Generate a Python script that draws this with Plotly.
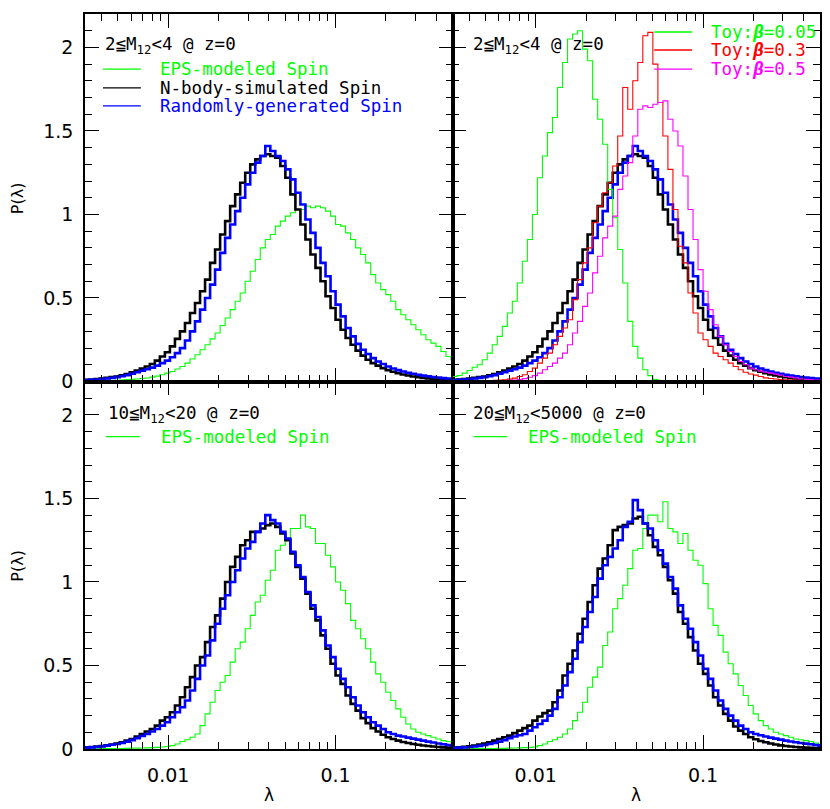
import numpy as np
import plotly.graph_objects as go
from plotly.subplots import make_subplots


# %% data: P(lambda) per dex, histogram bins of 0.03 dex starting at log10(lambda) = -2.5
LOG_LAMBDA_START = -2.5
BIN_DEX = 0.03

# 2 <= M12 < 4
nbody_2_4 = [
    0.010, 0.012, 0.015, 0.018, 0.022, 0.026, 0.030, 0.037, 0.045, 0.055,
    0.065, 0.077, 0.090, 0.105, 0.125, 0.150, 0.175, 0.210, 0.255, 0.300,
    0.350, 0.410, 0.470, 0.540, 0.610, 0.710, 0.790, 0.880, 0.960, 1.050,
    1.120, 1.190, 1.250, 1.300, 1.330, 1.350, 1.360, 1.350, 1.340, 1.290,
    1.220, 1.120, 1.030, 0.940, 0.850, 0.760, 0.680, 0.600, 0.510, 0.440,
    0.370, 0.310, 0.260, 0.220, 0.185, 0.155, 0.130, 0.110, 0.095, 0.080,
    0.068, 0.058, 0.050, 0.042, 0.036, 0.030, 0.026, 0.022, 0.019, 0.016,
    0.013, 0.011, 0.009, 0.008,
]
random_2_4 = [
    0.008, 0.010, 0.012, 0.015, 0.018, 0.022, 0.026, 0.031, 0.038, 0.046,
    0.055, 0.064, 0.073, 0.083, 0.095, 0.110, 0.125, 0.145, 0.170, 0.200,
    0.245, 0.300, 0.360, 0.430, 0.500, 0.580, 0.670, 0.770, 0.860, 0.940,
    1.020, 1.100, 1.180, 1.250, 1.310, 1.350, 1.410, 1.380, 1.350, 1.320,
    1.270, 1.210, 1.130, 1.060, 0.970, 0.890, 0.800, 0.710, 0.630, 0.540,
    0.460, 0.390, 0.320, 0.270, 0.225, 0.190, 0.165, 0.140, 0.120, 0.105,
    0.090, 0.078, 0.068, 0.060, 0.052, 0.046, 0.040, 0.035, 0.031, 0.027,
    0.023, 0.020, 0.018, 0.016,
]
eps_2_4 = [
    0.002, 0.002, 0.003, 0.004, 0.005, 0.006, 0.007, 0.009, 0.011, 0.013,
    0.015, 0.018, 0.021, 0.026, 0.032, 0.040, 0.050, 0.060, 0.075, 0.090,
    0.110, 0.135, 0.160, 0.190, 0.220, 0.255, 0.290, 0.335, 0.380, 0.430,
    0.480, 0.530, 0.600, 0.660, 0.730, 0.800, 0.850, 0.880, 0.930, 0.960,
    0.990, 1.010, 1.030, 1.030, 1.050, 1.040, 1.050, 1.040, 1.020, 0.990,
    0.940, 0.930, 0.890, 0.850, 0.800, 0.760, 0.710, 0.640, 0.590, 0.550,
    0.520, 0.480, 0.430, 0.400, 0.370, 0.340, 0.310, 0.280, 0.250, 0.230,
    0.210, 0.180, 0.150, 0.130,
]
toy_b005 = [
    0.030, 0.036, 0.050, 0.066, 0.085, 0.100, 0.130, 0.170, 0.220, 0.270,
    0.330, 0.410, 0.480, 0.590, 0.720, 0.850, 1.000, 1.220, 1.350, 1.490,
    1.580, 1.760, 1.910, 2.050, 2.080, 2.100, 1.990, 1.920, 1.690, 1.570,
    1.420, 1.150, 0.980, 0.790, 0.590, 0.360, 0.210, 0.140, 0.070, 0.035,
    0.012, 0.005, 0.002, 0.001, 0.0, 0.0, 0.0, 0.0, 0.0, 0.0,
    0.0, 0.0, 0.0, 0.0, 0.0, 0.0, 0.0, 0.0, 0.0, 0.0,
    0.0, 0.0, 0.0, 0.0, 0.0, 0.0, 0.0, 0.0, 0.0, 0.0,
    0.0, 0.0, 0.0, 0.0,
]
toy_b03 = [
    0.002, 0.002, 0.003, 0.003, 0.004, 0.004, 0.005, 0.006, 0.007, 0.008,
    0.010, 0.014, 0.020, 0.030, 0.040, 0.060, 0.080, 0.110, 0.140, 0.170,
    0.220, 0.270, 0.320, 0.370, 0.490, 0.610, 0.710, 0.800, 0.950, 1.050,
    1.130, 1.190, 1.290, 1.470, 1.760, 1.630, 1.800, 1.910, 2.070, 2.090,
    1.900, 1.670, 1.470, 1.270, 1.030, 0.810, 0.710, 0.530, 0.410, 0.290,
    0.250, 0.210, 0.170, 0.150, 0.130, 0.110, 0.090, 0.070, 0.055, 0.045,
    0.038, 0.030, 0.022, 0.018, 0.015, 0.012, 0.010, 0.008, 0.007, 0.006,
    0.005, 0.004, 0.004, 0.003,
]
toy_b05 = [
    0.001, 0.001, 0.001, 0.001, 0.002, 0.002, 0.003, 0.003, 0.004, 0.005,
    0.006, 0.007, 0.009, 0.012, 0.017, 0.025, 0.035, 0.050, 0.070, 0.090,
    0.110, 0.140, 0.170, 0.220, 0.290, 0.360, 0.450, 0.530, 0.650, 0.750,
    0.860, 0.930, 0.990, 1.150, 1.230, 1.310, 1.470, 1.630, 1.650, 1.640,
    1.660, 1.670, 1.680, 1.570, 1.500, 1.410, 1.230, 1.030, 0.850, 0.670,
    0.540, 0.430, 0.340, 0.270, 0.220, 0.180, 0.150, 0.120, 0.100, 0.080,
    0.070, 0.062, 0.055, 0.050, 0.044, 0.038, 0.030, 0.026, 0.022, 0.016,
    0.013, 0.011, 0.009, 0.008,
]

# 10 <= M12 < 20
nbody_10_20 = [
    0.010, 0.012, 0.015, 0.018, 0.022, 0.027, 0.033, 0.040, 0.050, 0.060,
    0.075, 0.090, 0.105, 0.120, 0.140, 0.170, 0.190, 0.220, 0.260, 0.310,
    0.370, 0.430, 0.500, 0.550, 0.640, 0.730, 0.800, 0.900, 1.000, 1.090,
    1.150, 1.220, 1.250, 1.300, 1.300, 1.320, 1.340, 1.350, 1.330, 1.290,
    1.250, 1.170, 1.090, 1.020, 0.930, 0.840, 0.770, 0.680, 0.600, 0.510,
    0.440, 0.390, 0.320, 0.270, 0.230, 0.185, 0.155, 0.125, 0.105, 0.085,
    0.070, 0.060, 0.050, 0.042, 0.036, 0.030, 0.025, 0.021, 0.018, 0.015,
    0.012, 0.010, 0.008, 0.007,
]
random_10_20 = [
    0.008, 0.010, 0.013, 0.016, 0.020, 0.025, 0.030, 0.036, 0.044, 0.053,
    0.065, 0.078, 0.090, 0.105, 0.120, 0.140, 0.160, 0.190, 0.220, 0.250,
    0.290, 0.350, 0.420, 0.500, 0.560, 0.650, 0.750, 0.840, 0.920, 1.000,
    1.070, 1.140, 1.200, 1.240, 1.300, 1.350, 1.400, 1.370, 1.350, 1.300,
    1.260, 1.180, 1.100, 1.030, 0.940, 0.860, 0.790, 0.710, 0.620, 0.550,
    0.480, 0.420, 0.370, 0.310, 0.260, 0.220, 0.190, 0.160, 0.140, 0.120,
    0.100, 0.090, 0.080, 0.075, 0.068, 0.062, 0.056, 0.050, 0.044, 0.039,
    0.033, 0.028, 0.024, 0.020,
]
eps_10_20 = [
    0.001, 0.001, 0.001, 0.002, 0.002, 0.002, 0.003, 0.003, 0.004, 0.005,
    0.005, 0.006, 0.007, 0.008, 0.010, 0.012, 0.015, 0.020, 0.030, 0.045,
    0.055, 0.070, 0.090, 0.140, 0.210, 0.280, 0.350, 0.400, 0.440, 0.520,
    0.600, 0.640, 0.720, 0.800, 0.880, 0.920, 1.010, 1.070, 1.190, 1.220,
    1.260, 1.320, 1.320, 1.400, 1.330, 1.320, 1.230, 1.230, 1.160, 1.090,
    1.000, 0.950, 0.870, 0.770, 0.720, 0.660, 0.600, 0.520, 0.450, 0.400,
    0.340, 0.290, 0.240, 0.190, 0.150, 0.120, 0.100, 0.090, 0.080, 0.070,
    0.060, 0.050, 0.045, 0.040,
]

# 20 <= M12 < 5000
nbody_20_5000 = [
    0.008, 0.010, 0.013, 0.016, 0.020, 0.026, 0.032, 0.040, 0.050, 0.060,
    0.070, 0.080, 0.095, 0.110, 0.125, 0.140, 0.170, 0.195, 0.215, 0.230,
    0.280, 0.350, 0.440, 0.510, 0.590, 0.690, 0.780, 0.880, 0.980, 1.080,
    1.140, 1.220, 1.310, 1.330, 1.340, 1.350, 1.380, 1.390, 1.350, 1.280,
    1.210, 1.160, 1.090, 1.010, 0.930, 0.820, 0.750, 0.670, 0.590, 0.510,
    0.450, 0.380, 0.310, 0.260, 0.210, 0.170, 0.135, 0.110, 0.090, 0.070,
    0.058, 0.048, 0.040, 0.033, 0.027, 0.022, 0.018, 0.015, 0.012, 0.010,
    0.008, 0.007, 0.006, 0.005,
]
random_20_5000 = [
    0.006, 0.008, 0.010, 0.012, 0.015, 0.019, 0.024, 0.030, 0.036, 0.044,
    0.053, 0.065, 0.075, 0.082, 0.090, 0.110, 0.130, 0.150, 0.170, 0.200,
    0.240, 0.310, 0.380, 0.460, 0.540, 0.640, 0.730, 0.820, 0.910, 1.020,
    1.100, 1.150, 1.200, 1.250, 1.330, 1.360, 1.490, 1.430, 1.350, 1.320,
    1.250, 1.190, 1.110, 1.030, 0.960, 0.860, 0.780, 0.720, 0.640, 0.560,
    0.480, 0.420, 0.350, 0.290, 0.240, 0.200, 0.170, 0.140, 0.120, 0.100,
    0.090, 0.082, 0.075, 0.068, 0.062, 0.056, 0.050, 0.045, 0.040, 0.036,
    0.032, 0.028, 0.024, 0.020,
]
eps_20_5000 = [
    0.001, 0.001, 0.001, 0.001, 0.002, 0.002, 0.002, 0.003, 0.003, 0.004,
    0.004, 0.005, 0.006, 0.007, 0.008, 0.010, 0.012, 0.020, 0.030, 0.045,
    0.055, 0.070, 0.090, 0.120, 0.170, 0.220, 0.280, 0.370, 0.430, 0.490,
    0.620, 0.700, 0.840, 0.900, 0.980, 1.080, 1.190, 1.200, 1.320, 1.400,
    1.400, 1.360, 1.480, 1.320, 1.300, 1.230, 1.290, 1.190, 1.130, 1.100,
    0.990, 0.840, 0.740, 0.680, 0.580, 0.510, 0.450, 0.380, 0.320, 0.260,
    0.210, 0.170, 0.140, 0.120, 0.100, 0.090, 0.080, 0.070, 0.060, 0.055,
    0.050, 0.045, 0.035, 0.025,
]

panel_titles = [
    "2≦M<sub>12</sub>&lt;4 @ z=0",
    "2≦M<sub>12</sub>&lt;4 @ z=0",
    "10≦M<sub>12</sub>&lt;20 @ z=0",
    "20≦M<sub>12</sub>&lt;5000 @ z=0",
]

GREEN, BLACK, BLUE, RED, MAGENTA = "#00ff00", "#000000", "#0000ff", "#ff0000", "#ff00ff"
MONO = "DejaVu Sans Mono"


# %%
n_bins = len(nbody_2_4)
lam_edges = 10 ** (LOG_LAMBDA_START + BIN_DEX * np.arange(n_bins + 1))


def step(fig, values, color, width, row, col):
    y = list(values) + [values[-1]]
    fig.add_trace(
        go.Scatter(x=lam_edges, y=y, mode="lines", line_shape="hv",
                   line=dict(color=color, width=width), showlegend=False),
        row=row, col=col,
    )


fig = make_subplots(rows=2, cols=2, horizontal_spacing=0, vertical_spacing=0)

step(fig, eps_2_4, GREEN, 1.1, 1, 1)
step(fig, nbody_2_4, BLACK, 2.6, 1, 1)
step(fig, random_2_4, BLUE, 2.6, 1, 1)

step(fig, nbody_2_4, BLACK, 2.6, 1, 2)
step(fig, random_2_4, BLUE, 2.6, 1, 2)
step(fig, toy_b005, GREEN, 1.1, 1, 2)
step(fig, toy_b03, RED, 1.1, 1, 2)
step(fig, toy_b05, MAGENTA, 1.1, 1, 2)

step(fig, eps_10_20, GREEN, 1.1, 2, 1)
step(fig, nbody_10_20, BLACK, 2.6, 2, 1)
step(fig, random_10_20, BLUE, 2.6, 2, 1)

step(fig, eps_20_5000, GREEN, 1.1, 2, 2)
step(fig, nbody_20_5000, BLACK, 2.6, 2, 2)
step(fig, random_20_5000, BLUE, 2.6, 2, 2)

minor_x = [0.004, 0.005, 0.006, 0.007, 0.008, 0.009,
           0.02, 0.03, 0.04, 0.05, 0.06, 0.07, 0.08, 0.09,
           0.2, 0.3, 0.4, 0.5]
fig.update_xaxes(
    type="log", range=[np.log10(0.00318), np.log10(0.5)],
    tickvals=[0.01, 0.1], ticktext=["0.01", "0.1"],
    ticks="inside", ticklen=14, tickwidth=1.3, tickcolor="black",
    minor=dict(tickvals=minor_x, ticks="inside", ticklen=7, tickwidth=1.3, tickcolor="black"),
    showline=True, linecolor="black", linewidth=1.5, mirror="ticks",
    showgrid=False, zeroline=False, ticklabelstandoff=8,
    tickfont=dict(family="DejaVu Sans", size=19, color="black"),
)
fig.update_yaxes(
    range=[0, 2.2],
    tickvals=[0, 0.5, 1, 1.5, 2], ticktext=["0", "0.5", "1", "1.5", "2"],
    ticks="inside", ticklen=14, tickwidth=1.3, tickcolor="black",
    minor=dict(dtick=0.1, ticks="inside", ticklen=7, tickwidth=1.3, tickcolor="black"),
    showline=True, linecolor="black", linewidth=1.5, mirror="ticks",
    showgrid=False, zeroline=False, ticklabelstandoff=6,
    tickfont=dict(family="DejaVu Sans", size=19, color="black"),
)
fig.update_xaxes(showticklabels=False, row=1)
fig.update_yaxes(showticklabels=False, col=2)

# panel texts and key lines
refs = [("x", "y"), ("x2", "y2"), ("x3", "y3"), ("x4", "y4")]
title_pos = [(0.049, 0.913), (0.051, 0.913), (0.056, 0.910), (0.049, 0.910)]
for (xr, yr), (tx, ty), title in zip(refs, title_pos, panel_titles):
    fig.add_annotation(x=tx, y=ty, xref=f"{xr} domain", yref=f"{yr} domain", text=title,
                       showarrow=False, xanchor="left", yanchor="middle",
                       font=dict(family=MONO, size=17.5, color="black"))


def key(xr, yr, x0, x1, xt, y, label, color):
    fig.add_shape(type="line", xref=f"{xr} domain", yref=f"{yr} domain",
                  x0=x0, x1=x1, y0=y, y1=y, line=dict(color=color, width=1.3))
    fig.add_annotation(x=xt, y=y, xref=f"{xr} domain", yref=f"{yr} domain", text=label,
                       showarrow=False, xanchor="left", yanchor="middle", borderpad=0,
                       font=dict(family=MONO, size=17.5, color=color))


key("x", "y", 0.049, 0.152, 0.201, 0.850, "EPS-modeled Spin", GREEN)
key("x", "y", 0.049, 0.152, 0.201, 0.799, "N-body-simulated Spin", BLACK)
key("x", "y", 0.049, 0.152, 0.201, 0.750, "Randomly-generated Spin", BLUE)
key("x2", "y2", 0.549, 0.652, 0.701, 0.951, "Toy:<b><i>β</i></b>=0.05", GREEN)
key("x2", "y2", 0.549, 0.652, 0.701, 0.902, "Toy:<b><i>β</i></b>=0.3", RED)
key("x2", "y2", 0.549, 0.652, 0.701, 0.850, "Toy:<b><i>β</i></b>=0.5", MAGENTA)
key("x3", "y3", 0.057, 0.149, 0.204, 0.850, "EPS-modeled Spin", GREEN)
key("x4", "y4", 0.057, 0.149, 0.204, 0.850, "EPS-modeled Spin", GREEN)

for y in [0.75, 0.25]:
    fig.add_annotation(x=-0.092, y=y, xref="paper", yref="paper", text="P(λ)", textangle=-90,
                       showarrow=False, xanchor="center", yanchor="middle",
                       font=dict(family="DejaVu Sans", size=16, color="black"))
for x in [0.25, 0.75]:
    fig.add_annotation(x=x, y=-0.0626, xref="paper", yref="paper", text="λ",
                       showarrow=False, xanchor="center", yanchor="middle",
                       font=dict(family="DejaVu Sans", size=17, color="black"))

fig.update_layout(
    width=830, height=809,
    margin=dict(l=85, r=8, t=14, b=60),
    plot_bgcolor="white", paper_bgcolor="white",
)
fig.write_html("out.html", config={"displayModeBar": False},
               post_script="document.body.style.margin = '0px';")
